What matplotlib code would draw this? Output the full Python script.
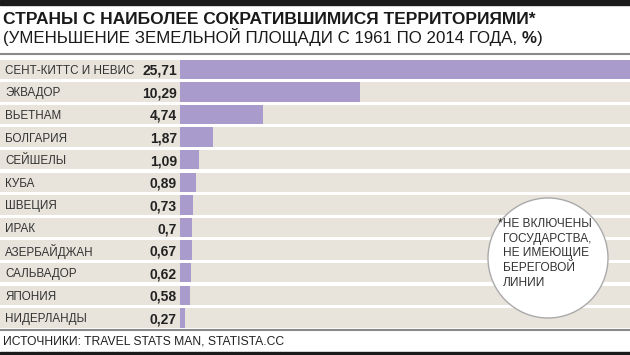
import matplotlib.pyplot as plt
from matplotlib.patches import Circle, Rectangle

# Data
countries = ['СЕНТ-КИТТС И НЕВИС', 'ЭКВАДОР', 'ВЬЕТНАМ', 'БОЛГАРИЯ', 'СЕЙШЕЛЫ', 'КУБА',
             'ШВЕЦИЯ', 'ИРАК', 'АЗЕРБАЙДЖАН', 'САЛЬВАДОР', 'ЯПОНИЯ', 'НИДЕРЛАНДЫ']
values = [25.71, 10.29, 4.74, 1.87, 1.09, 0.89, 0.73, 0.7, 0.67, 0.62, 0.58, 0.27]
value_labels = ['25,71', '10,29', '4,74', '1,87', '1,09', '0,89', '0,73', '0,7', '0,67', '0,62', '0,58', '0,27']

title = 'СТРАНЫ С НАИБОЛЕЕ СОКРАТИВШИМИСЯ ТЕРРИТОРИЯМИ*'
subtitle = '(УМЕНЬШЕНИЕ ЗЕМЕЛЬНОЙ ПЛОЩАДИ С 1961 ПО 2014 ГОДА, '
source = 'ИСТОЧНИКИ: TRAVEL STATS MAN, STATISTA.CC'
note = ['*НЕ ВКЛЮЧЕНЫ', 'ГОСУДАРСТВА,', 'НЕ ИМЕЮЩИЕ', 'БЕРЕГОВОЙ', 'ЛИНИИ']

plain = ['Liberation Sans', 'DejaVu Sans']

W, H = 630, 355
fig = plt.figure(figsize=(W / 100, H / 100), dpi=100)
fig.patch.set_facecolor('white')

top, pitch = 58.0, 22.6
n = len(countries)
bottom = top + n * pitch
rows = list(range(n))

# background bands
band = fig.add_axes([0, 1 - bottom / H, 1, (bottom - top) / H])
band.barh(rows, [1] * n, height=0.86, left=0, color='#e8e4dc')
band.set_xlim(0, 1)
band.set_ylim(n - 0.5, -0.5)
band.axis('off')
for i in rows:
    band.text(5 / W, i, countries[i], ha='left', va='center_baseline', fontsize=8.4,
              color='#333333', family=plain)
    band.text(177 / W, i, value_labels[i], ha='right', va='center_baseline', fontsize=10,
              color='#222222', fontweight='bold', family=plain)

# bars
ax = fig.add_axes([180 / W, 1 - bottom / H, 450 / W, (bottom - top) / H])
ax.barh(rows, values, height=0.86, color='#a99bcb')
ax.set_xlim(0, 450 / 17.5)
ax.set_ylim(n - 0.5, -0.5)
ax.axis('off')

# overlay in pixel coords
ov = fig.add_axes([0, 0, 1, 1])
ov.set_xlim(0, W)
ov.set_ylim(H, 0)
ov.axis('off')
ov.add_patch(Rectangle((0, 0), W, 5, color='#1a1a1a'))
ov.add_patch(Rectangle((0, 351.5), W, 4, color='#1a1a1a'))
ov.plot([0, W], [53.5, 53.5], color='#8a8a8a', lw=1.5)
ov.plot([0, W], [329.5, 329.5], color='#8a8a8a', lw=1.5)

ov.text(3, 19, title, ha='left', va='center', fontsize=12.5, fontweight='bold',
        color='#1a1a1a', family=plain)
t = ov.text(3, 37, subtitle, ha='left', va='center', fontsize=12.2,
            color='#1a1a1a', family=plain)
t1 = ov.annotate('%', xy=(1, 0), xycoords=t, ha='left', va='bottom', fontsize=12.2,
                 color='#1a1a1a', family=plain, fontweight='bold')
ov.annotate(')', xy=(1, 0), xycoords=t1, ha='left', va='bottom', fontsize=12.2,
            color='#1a1a1a', family=plain)

ov.text(3, 342, source, ha='left', va='center', fontsize=8.7, color='#222222',
        family=plain)

ov.add_patch(Circle((548, 258), 60, facecolor='white', edgecolor='#aaaaaa', lw=1, zorder=5))
for k, line in enumerate(note):
    ov.text(498 if k == 0 else 503, 224 + k * 14.7, line, ha='left', va='center',
            fontsize=8.6, color='#333333', family=plain, zorder=6)

fig.savefig('out.png', dpi=100)
